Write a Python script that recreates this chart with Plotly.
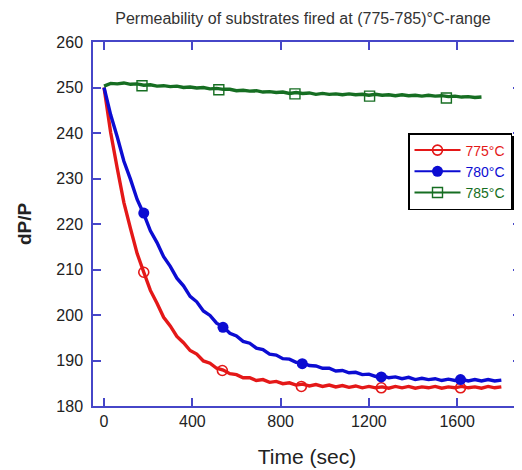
import plotly.graph_objects as go

# ---------------- data ----------------
time_rb = list(range(0, 1801, 30))
time_g = list(range(0, 1711, 30))

dp_775 = [250.0, 240.1, 232.2, 224.7, 219.0, 213.5, 209.4, 205.4, 202.6, 199.5,
          197.6, 195.3, 193.9, 192.2, 191.4, 189.9, 189.4, 188.3, 187.9, 187.1,
          186.9, 186.2, 186.2, 185.6, 185.8, 185.2, 185.4, 184.9, 185.1, 184.6,
          184.8, 184.4, 184.7, 184.3, 184.6, 184.2, 184.5, 184.1, 184.4, 184.0,
          184.3, 184.0, 184.2, 183.9, 184.3, 184.0, 184.3, 183.9, 184.2, 184.0,
          184.3, 183.9, 184.2, 184.0, 184.3, 184.0, 184.2, 183.9, 184.3, 184.0,
          184.2]

dp_780 = [250.0, 244.0, 239.1, 233.8, 229.8, 225.4, 222.2, 218.5, 215.9, 212.8,
          210.7, 208.1, 206.4, 204.1, 202.9, 200.9, 199.9, 198.2, 197.4, 196.0,
          195.4, 194.2, 193.8, 192.7, 192.4, 191.4, 191.2, 190.4, 190.3, 189.6,
          189.5, 188.9, 188.8, 188.3, 188.3, 187.7, 187.8, 187.3, 187.4, 186.9,
          187.0, 186.5, 186.7, 186.2, 186.4, 186.0, 186.3, 185.8, 186.1, 185.8,
          186.0, 185.6, 185.9, 185.6, 185.9, 185.5, 185.8, 185.5, 185.8, 185.5,
          185.7]

dp_785 = [250.3, 250.9, 250.8, 251.0, 250.7, 250.8, 250.5, 250.6, 250.3, 250.4,
          250.2, 250.3, 250.0, 250.1, 249.9, 250.0, 249.7, 249.8, 249.6, 249.6,
          249.3, 249.4, 249.2, 249.3, 249.0, 249.1, 248.9, 249.0, 248.7, 248.9,
          248.7, 248.8, 248.5, 248.7, 248.5, 248.6, 248.4, 248.6, 248.4, 248.5,
          248.3, 248.5, 248.3, 248.4, 248.2, 248.4, 248.2, 248.3, 248.1, 248.3,
          248.1, 248.2, 248.0, 248.1, 247.9, 248.0, 247.8, 247.9]

mk_t_775 = [180, 536, 894, 1256, 1615]
mk_v_775 = [209.4, 187.8, 184.3, 184.0, 184.0]
mk_t_780 = [180, 539, 898, 1256, 1615]
mk_v_780 = [222.4, 197.3, 189.3, 186.4, 185.8]
mk_t_785 = [172, 520, 865, 1203, 1551]
mk_v_785 = [250.4, 249.5, 248.6, 248.1, 247.7]

labels = ["775°C", "780°C", "785°C"]
x_ticks = [0, 400, 800, 1200, 1600]
y_ticks = [180, 190, 200, 210, 220, 230, 240, 250, 260]

# ---------------- styling ----------------
RED = "rgb(228,24,24)"
BLUE = "rgb(12,12,210)"
GREEN = "rgb(22,110,34)"
AXC = "rgb(70,70,200)"
FONT = "Arial, Liberation Sans, sans-serif"

series = [
    (time_rb, dp_775, mk_t_775, mk_v_775, RED,
     dict(symbol="circle-open", size=10, color=RED, line=dict(width=1.6, color=RED))),
    (time_rb, dp_780, mk_t_780, mk_v_780, BLUE,
     dict(symbol="circle", size=11, color=BLUE)),
    (time_g, dp_785, mk_t_785, mk_v_785, GREEN,
     dict(symbol="square-open", size=10, color=GREEN, line=dict(width=1.4, color=GREEN))),
]

fig = go.Figure()
for i, (t, v, mt, mv, col, mk) in enumerate(series):
    fig.add_trace(go.Scatter(x=t, y=v, mode="lines", line=dict(color=col, width=3.4),
                             showlegend=False, hoverinfo="skip"))
    fig.add_trace(go.Scatter(x=mt, y=mv, mode="markers", marker=mk,
                             showlegend=False))
    fig.add_trace(go.Scatter(x=[None], y=[None], mode="lines+markers",
                             line=dict(color=col, width=2), marker=mk,
                             name=f'<span style="color:{col}">{labels[i]}</span>'))

# figure is drawn inside the page's 8px body margin
W, H = 514, 462
L, R, T, B = 85, 1, 34, 64
pw, ph = W - L - R, H - T - B

def px_x(p):
    return (p - L) / pw

def px_y(p):
    return (H - B - p) / ph

# legend shadow
fig.add_shape(type="rect", xref="paper", yref="paper",
              x0=px_x(403), x1=px_x(507), y0=px_y(202), y1=px_y(128),
              fillcolor="black", line=dict(width=0), layer="above")

fig.update_layout(
    width=W, height=H,
    margin=dict(l=L, r=R, t=T, b=B, autoexpand=False),
    paper_bgcolor="white", plot_bgcolor="white",
    font=dict(family=FONT, color="#222"),
    title=dict(text="Permeability of substrates fired at (775-785)°C-range",
               x=295 / W, xanchor="center", y=1 - 10 / H, yanchor="middle",
               yref="container", font=dict(size=16, color="#333")),
    xaxis=dict(range=[-50, 1889], tickvals=x_ticks, ticks="inside", ticklen=8,
               tickcolor=AXC, tickwidth=1.5, showline=True, linecolor=AXC, linewidth=1.5,
               mirror="ticks", showgrid=False, zeroline=False, automargin=False,
               tickfont=dict(size=16, color="#222"),
               title=dict(text="Time (sec)", font=dict(size=21, color="#222"), standoff=20)),
    yaxis=dict(range=[180, 260], tickvals=y_ticks, ticks="inside", ticklen=8,
               tickcolor=AXC, tickwidth=1.5, showline=True, linecolor=AXC, linewidth=1.5,
               mirror="ticks", showgrid=False, zeroline=False, automargin=False,
               ticklabelstandoff=5,
               tickfont=dict(size=16, color="#222"),
               title=dict(text="<b>dP/P</b>", font=dict(size=19, color="#222"), standoff=20)),
    legend=dict(x=px_x(400), y=px_y(125), xanchor="left", yanchor="top",
                bgcolor="white", bordercolor="black", borderwidth=1.5,
                font=dict(size=14), itemwidth=46),
    showlegend=True,
)

fig.write_html("out.html")
